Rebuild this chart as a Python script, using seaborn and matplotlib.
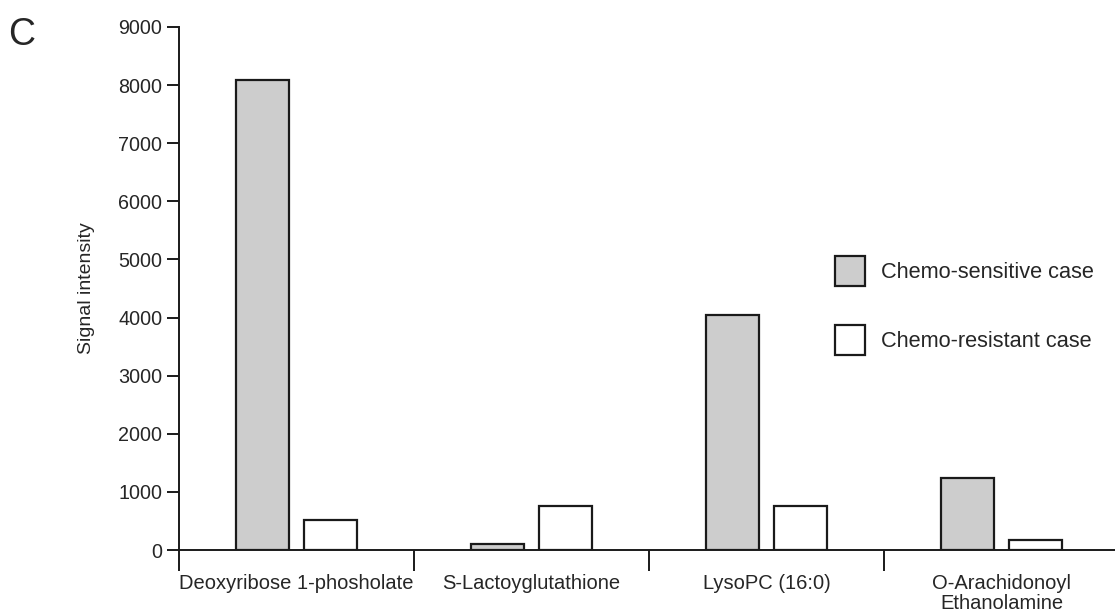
import numpy as np
import pandas as pd
import matplotlib
matplotlib.use("Agg")
import matplotlib.pyplot as plt
import seaborn as sns
from matplotlib.patches import Patch
from matplotlib.ticker import FixedLocator, FixedFormatter

# ---- data ----
categories = ["Deoxyribose 1-phosholate", "S-Lactoyglutathione", "LysoPC (16:0)",
              "O-Arachidonoyl\nEthanolamine"]
sensitive = [8080, 100, 4040, 1240]
resistant = [520, 750, 750, 180]
series = ["Chemo-sensitive case", "Chemo-resistant case"]
yticks = [0, 1000, 2000, 3000, 4000, 5000, 6000, 7000, 8000, 9000]

df = pd.DataFrame({
    "metabolite": categories * 2,
    "value": sensitive + resistant,
    "group": [series[0]] * len(categories) + [series[1]] * len(categories),
})

sns.set_theme(style="white")
plt.rcParams["font.family"] = ["Liberation Sans", "DejaVu Sans"]

fig = plt.figure(figsize=(11.15, 6.15), dpi=100)
ax = fig.add_axes([179 / 1115, 1 - 550 / 615, 940 / 1115, (550 - 27) / 615])

gray = "#cdcdcd"
edge = "#1a1a1a"
sns.barplot(data=df, x="metabolite", y="value", hue="group", hue_order=series,
            order=categories, palette=[gray, "white"], width=0.572, gap=0.21,
            edgecolor=edge, linewidth=1.6, saturation=1, ax=ax, legend=False)

ax.set_xlim(-0.5, 3.5)
ax.set_ylim(0, 9000)
ax.set_yticks(yticks)
ax.set_yticklabels([str(t) for t in yticks], fontsize=14.2)
ax.tick_params(axis="y", direction="out", length=9, width=1.4, pad=3, left=True,
               color=edge)

# x: major ticks at category boundaries (no labels), minor labels at centers
ax.xaxis.set_major_locator(FixedLocator([-0.5, 0.5, 1.5, 2.5, 3.5]))
ax.xaxis.set_major_formatter(FixedFormatter(["", "", "", "", ""]))
ax.xaxis.set_minor_locator(FixedLocator(list(range(len(categories)))))
ax.xaxis.set_minor_formatter(FixedFormatter(categories))
ax.tick_params(axis="x", which="major", direction="out", length=15, width=1.4,
               bottom=True, color=edge)
ax.tick_params(axis="x", which="minor", length=0, pad=17, labelsize=14.5, bottom=True)
for lab in ax.get_xticklabels(minor=True):
    lab.set_linespacing(1.1)

ax.set_xlabel("")
ax.set_ylabel("Signal intensity", fontsize=14, labelpad=17)

for s in ["top", "right"]:
    ax.spines[s].set_visible(False)
for s in ["left", "bottom"]:
    ax.spines[s].set_linewidth(1.4)
    ax.spines[s].set_color(edge)

handles = [Patch(facecolor=gray, edgecolor=edge, linewidth=1.6),
           Patch(facecolor="white", edgecolor=edge, linewidth=1.6)]
fig.legend(handles, series, loc="upper left",
           bbox_to_anchor=(835 / 1115, 1 - 256 / 615), frameon=False,
           fontsize=15.7, handlelength=1.38, handleheight=1.77,
           handletextpad=0.75, labelspacing=1.77, borderpad=0, borderaxespad=0)

fig.text(8 / 1115, 1 - 45 / 615, "C", fontsize=27, ha="left", va="baseline")

fig.savefig("out.png", dpi=100)
